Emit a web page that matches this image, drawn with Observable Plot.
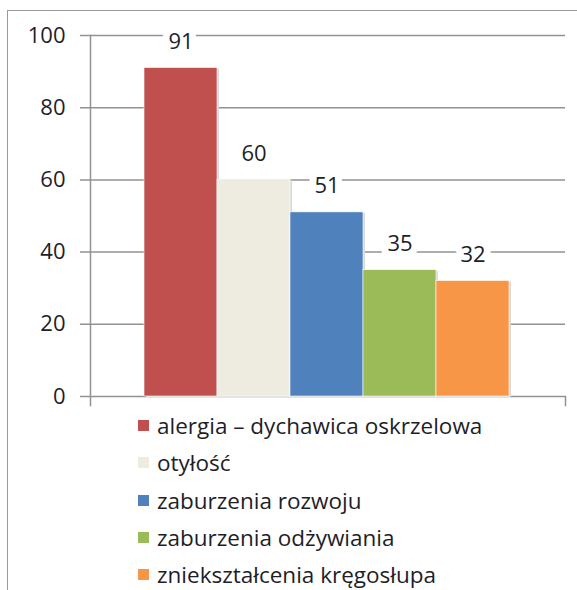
<!DOCTYPE html>
<html><head><meta charset="utf-8">
<script src="https://cdn.jsdelivr.net/npm/d3@7"></script>
<script src="https://cdn.jsdelivr.net/npm/@observablehq/plot@0.6"></script>
<style>
body{margin:0;background:#fff;font-family:"Open Sans",sans-serif;}
#frame{position:absolute;left:7px;top:10px;width:600px;height:600px;border-left:1.5px solid #9a9a9a;border-top:1.5px solid #9a9a9a;box-sizing:border-box;}
#chart{position:absolute;left:0;top:0;}
#legend{position:absolute;left:138px;top:407px;}
.item{display:flex;align-items:center;height:37.3px;font-size:22.5px;color:#1e1e28;font-family:"Open Sans",sans-serif;white-space:nowrap;}
.sw{width:11px;height:11px;margin-right:8px;flex:none;}
</style></head>
<body>
<div id="frame"></div>
<div id="chart"></div>
<div id="legend"></div>
<script>
const categories = ["alergia – dychawica oskrzelowa","otyłość","zaburzenia rozwoju","zaburzenia odżywiania","zniekształcenia kręgosłupa"];
const values = [91, 60, 51, 35, 32];
const colors = ["#C0504D","#EEECE1","#4F81BD","#9BBB59","#F79646"];
const yTicks = [0, 20, 40, 60, 80, 100];

const data = categories.map((c, i) => ({category: c, value: values[i]}));

const chart = Plot.plot({
  width: 577,
  height: 410,
  marginTop: 35,
  marginBottom: 5,
  marginLeft: 80,
  marginRight: 12,
  style: {background: "transparent", fontFamily: "'Open Sans', sans-serif", color: "#1e1e28"},
  x: {domain: categories, range: [143, 509], padding: 0, axis: null},
  y: {domain: [0, 100], range: [396, 35], ticks: yTicks},
  color: {domain: categories, range: colors},
  marks: [
    Plot.ruleY(yTicks, {stroke: "#929292", strokeWidth: 1.5}),
    Plot.frame({anchor: "left", dx: 10, stroke: "#929292", strokeWidth: 1.5}),
    Plot.frame({anchor: "right", insetTop: 361, stroke: "#929292", strokeWidth: 1.5}),
    Plot.barY(data, {x: "category", y: "value", fill: "#d9d9d9", dx: 2, dy: 1}),
    Plot.barY(data, {x: "category", y: "value", fill: "category", stroke: "white", strokeWidth: 0.6}),
    Plot.text(data, {x: "category", y: "value", text: d => String(d.value), dy: -26, fontSize: 22, fill: "#1e1e28", stroke: "white", strokeWidth: 14, paintOrder: "stroke"}),
    Plot.axisY({ticks: yTicks, tickSize: 0, tickPadding: 15, fontSize: 22, label: null})
  ]
});
document.getElementById("chart").appendChild(chart);

const legend = document.getElementById("legend");
categories.forEach((c, i) => {
  const row = document.createElement("div");
  row.className = "item";
  const sw = document.createElement("span");
  sw.className = "sw";
  sw.style.background = colors[i];
  const t = document.createElement("span");
  t.textContent = c;
  row.appendChild(sw); row.appendChild(t);
  legend.appendChild(row);
});
</script>
</body></html>
